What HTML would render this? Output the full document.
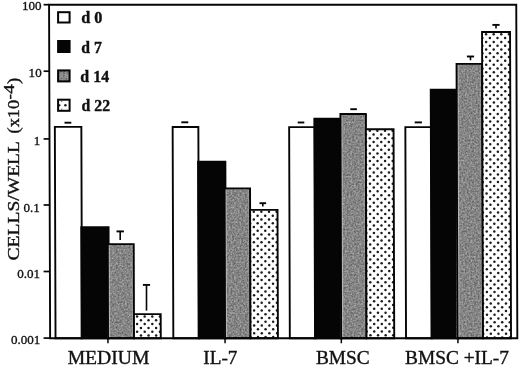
<!DOCTYPE html>
<html><head><meta charset="utf-8"><title>chart</title>
<style>
html,body{margin:0;padding:0;background:#fff;}
body{width:520px;height:367px;overflow:hidden;font-family:"Liberation Serif",serif;}
svg{display:block;filter:grayscale(1);}
text{font-family:"Liberation Serif",serif;fill:#111;stroke:#111;stroke-width:0.35px;}
</style></head><body>
<svg width="520" height="367" viewBox="0 0 520 367">
<defs>
<filter id="gn" x="0" y="0" width="100%" height="100%" color-interpolation-filters="sRGB">
<feTurbulence type="fractalNoise" baseFrequency="0.55" numOctaves="2" seed="4" result="t"/>
<feColorMatrix in="t" type="matrix" values="0.48 0 0 0 0.28  0.48 0 0 0 0.28  0.48 0 0 0 0.28  0 0 0 0 1"/>
</filter>
</defs>
<rect width="520" height="367" fill="#fff"/>

<g transform="matrix(1 0 0.0032 1 -1.0560 0)">
<rect x="55.50" y="126.90" width="26.50" height="211.40" fill="#fff" stroke="#050505" stroke-width="1.9"/>
<rect x="81.60" y="227.10" width="27.30" height="111.20" fill="#050505" stroke="#050505" stroke-width="1.9"/>
<rect x="173.30" y="127.00" width="25.70" height="211.30" fill="#fff" stroke="#050505" stroke-width="1.9"/>
<rect x="198.60" y="161.80" width="27.30" height="176.50" fill="#050505" stroke="#050505" stroke-width="1.9"/>
<rect x="289.80" y="127.10" width="25.60" height="211.20" fill="#fff" stroke="#050505" stroke-width="1.9"/>
<rect x="315.00" y="118.70" width="27.00" height="219.60" fill="#050505" stroke="#050505" stroke-width="1.9"/>
<rect x="406.00" y="127.10" width="25.90" height="211.20" fill="#fff" stroke="#050505" stroke-width="1.9"/>
<rect x="431.50" y="89.80" width="26.80" height="248.50" fill="#050505" stroke="#050505" stroke-width="1.9"/>
</g>
<rect x="107.88" y="244.10" width="26.00" height="94.20" fill="#858585" filter="url(#gn)"/>
<rect x="224.79" y="188.40" width="25.50" height="149.90" fill="#858585" filter="url(#gn)"/>
<rect x="340.77" y="114.00" width="25.40" height="224.30" fill="#858585" filter="url(#gn)"/>
<rect x="456.99" y="63.85" width="25.60" height="274.45" fill="#858585" filter="url(#gn)"/>
<g transform="matrix(1 0 0.0032 1 -1.0560 0)">
<rect x="108.95" y="245.05" width="1.1" height="92.30" fill="#c4c4c4" opacity="0.75"/>
<rect x="132.05" y="245.05" width="1.0" height="92.30" fill="#b0b0b0" opacity="0.5"/>
<rect x="108.00" y="244.10" width="26.00" height="94.20" fill="none" stroke="#050505" stroke-width="1.9"/>
<rect x="134.00" y="314.10" width="26.75" height="24.20" fill="#fff"/>
<clipPath id="c0"><rect x="134.00" y="314.10" width="26.75" height="24.20"/></clipPath>
<g clip-path="url(#c0)" fill="#1c1c1c">
<circle cx="133.33" cy="312.72" r="1.25"/>
<circle cx="133.33" cy="320.30" r="1.25"/>
<circle cx="133.33" cy="327.88" r="1.25"/>
<circle cx="133.33" cy="335.46" r="1.25"/>
<circle cx="140.93" cy="312.72" r="1.25"/>
<circle cx="140.93" cy="320.30" r="1.25"/>
<circle cx="140.93" cy="327.88" r="1.25"/>
<circle cx="140.93" cy="335.46" r="1.25"/>
<circle cx="148.53" cy="312.72" r="1.25"/>
<circle cx="148.53" cy="320.30" r="1.25"/>
<circle cx="148.53" cy="327.88" r="1.25"/>
<circle cx="148.53" cy="335.46" r="1.25"/>
<circle cx="156.13" cy="312.72" r="1.25"/>
<circle cx="156.13" cy="320.30" r="1.25"/>
<circle cx="156.13" cy="327.88" r="1.25"/>
<circle cx="156.13" cy="335.46" r="1.25"/>
<circle cx="137.13" cy="316.51" r="1.25"/>
<circle cx="137.13" cy="324.09" r="1.25"/>
<circle cx="137.13" cy="331.67" r="1.25"/>
<circle cx="137.13" cy="339.25" r="1.25"/>
<circle cx="144.73" cy="316.51" r="1.25"/>
<circle cx="144.73" cy="324.09" r="1.25"/>
<circle cx="144.73" cy="331.67" r="1.25"/>
<circle cx="144.73" cy="339.25" r="1.25"/>
<circle cx="152.33" cy="316.51" r="1.25"/>
<circle cx="152.33" cy="324.09" r="1.25"/>
<circle cx="152.33" cy="331.67" r="1.25"/>
<circle cx="152.33" cy="339.25" r="1.25"/>
<circle cx="159.93" cy="316.51" r="1.25"/>
<circle cx="159.93" cy="324.09" r="1.25"/>
<circle cx="159.93" cy="331.67" r="1.25"/>
<circle cx="159.93" cy="339.25" r="1.25"/>
</g>
<rect x="134.00" y="314.10" width="26.75" height="24.20" fill="none" stroke="#050505" stroke-width="1.9"/>
<rect x="225.95" y="189.35" width="1.1" height="148.00" fill="#c4c4c4" opacity="0.75"/>
<rect x="248.55" y="189.35" width="1.0" height="148.00" fill="#b0b0b0" opacity="0.5"/>
<rect x="225.00" y="188.40" width="25.50" height="149.90" fill="none" stroke="#050505" stroke-width="1.9"/>
<rect x="250.50" y="209.90" width="27.40" height="128.40" fill="#fff"/>
<clipPath id="c1"><rect x="250.50" y="209.90" width="27.40" height="128.40"/></clipPath>
<g clip-path="url(#c1)" fill="#1c1c1c">
<circle cx="250.37" cy="215.65" r="1.25"/>
<circle cx="250.37" cy="223.23" r="1.25"/>
<circle cx="250.37" cy="230.81" r="1.25"/>
<circle cx="250.37" cy="238.39" r="1.25"/>
<circle cx="250.37" cy="245.97" r="1.25"/>
<circle cx="250.37" cy="253.55" r="1.25"/>
<circle cx="250.37" cy="261.13" r="1.25"/>
<circle cx="250.37" cy="268.71" r="1.25"/>
<circle cx="250.37" cy="276.29" r="1.25"/>
<circle cx="250.37" cy="283.87" r="1.25"/>
<circle cx="250.37" cy="291.45" r="1.25"/>
<circle cx="250.37" cy="299.03" r="1.25"/>
<circle cx="250.37" cy="306.61" r="1.25"/>
<circle cx="250.37" cy="314.19" r="1.25"/>
<circle cx="250.37" cy="321.77" r="1.25"/>
<circle cx="250.37" cy="329.35" r="1.25"/>
<circle cx="250.37" cy="336.93" r="1.25"/>
<circle cx="257.97" cy="215.65" r="1.25"/>
<circle cx="257.97" cy="223.23" r="1.25"/>
<circle cx="257.97" cy="230.81" r="1.25"/>
<circle cx="257.97" cy="238.39" r="1.25"/>
<circle cx="257.97" cy="245.97" r="1.25"/>
<circle cx="257.97" cy="253.55" r="1.25"/>
<circle cx="257.97" cy="261.13" r="1.25"/>
<circle cx="257.97" cy="268.71" r="1.25"/>
<circle cx="257.97" cy="276.29" r="1.25"/>
<circle cx="257.97" cy="283.87" r="1.25"/>
<circle cx="257.97" cy="291.45" r="1.25"/>
<circle cx="257.97" cy="299.03" r="1.25"/>
<circle cx="257.97" cy="306.61" r="1.25"/>
<circle cx="257.97" cy="314.19" r="1.25"/>
<circle cx="257.97" cy="321.77" r="1.25"/>
<circle cx="257.97" cy="329.35" r="1.25"/>
<circle cx="257.97" cy="336.93" r="1.25"/>
<circle cx="265.57" cy="215.65" r="1.25"/>
<circle cx="265.57" cy="223.23" r="1.25"/>
<circle cx="265.57" cy="230.81" r="1.25"/>
<circle cx="265.57" cy="238.39" r="1.25"/>
<circle cx="265.57" cy="245.97" r="1.25"/>
<circle cx="265.57" cy="253.55" r="1.25"/>
<circle cx="265.57" cy="261.13" r="1.25"/>
<circle cx="265.57" cy="268.71" r="1.25"/>
<circle cx="265.57" cy="276.29" r="1.25"/>
<circle cx="265.57" cy="283.87" r="1.25"/>
<circle cx="265.57" cy="291.45" r="1.25"/>
<circle cx="265.57" cy="299.03" r="1.25"/>
<circle cx="265.57" cy="306.61" r="1.25"/>
<circle cx="265.57" cy="314.19" r="1.25"/>
<circle cx="265.57" cy="321.77" r="1.25"/>
<circle cx="265.57" cy="329.35" r="1.25"/>
<circle cx="265.57" cy="336.93" r="1.25"/>
<circle cx="273.17" cy="215.65" r="1.25"/>
<circle cx="273.17" cy="223.23" r="1.25"/>
<circle cx="273.17" cy="230.81" r="1.25"/>
<circle cx="273.17" cy="238.39" r="1.25"/>
<circle cx="273.17" cy="245.97" r="1.25"/>
<circle cx="273.17" cy="253.55" r="1.25"/>
<circle cx="273.17" cy="261.13" r="1.25"/>
<circle cx="273.17" cy="268.71" r="1.25"/>
<circle cx="273.17" cy="276.29" r="1.25"/>
<circle cx="273.17" cy="283.87" r="1.25"/>
<circle cx="273.17" cy="291.45" r="1.25"/>
<circle cx="273.17" cy="299.03" r="1.25"/>
<circle cx="273.17" cy="306.61" r="1.25"/>
<circle cx="273.17" cy="314.19" r="1.25"/>
<circle cx="273.17" cy="321.77" r="1.25"/>
<circle cx="273.17" cy="329.35" r="1.25"/>
<circle cx="273.17" cy="336.93" r="1.25"/>
<circle cx="254.17" cy="211.86" r="1.25"/>
<circle cx="254.17" cy="219.44" r="1.25"/>
<circle cx="254.17" cy="227.02" r="1.25"/>
<circle cx="254.17" cy="234.60" r="1.25"/>
<circle cx="254.17" cy="242.18" r="1.25"/>
<circle cx="254.17" cy="249.76" r="1.25"/>
<circle cx="254.17" cy="257.34" r="1.25"/>
<circle cx="254.17" cy="264.92" r="1.25"/>
<circle cx="254.17" cy="272.50" r="1.25"/>
<circle cx="254.17" cy="280.08" r="1.25"/>
<circle cx="254.17" cy="287.66" r="1.25"/>
<circle cx="254.17" cy="295.24" r="1.25"/>
<circle cx="254.17" cy="302.82" r="1.25"/>
<circle cx="254.17" cy="310.40" r="1.25"/>
<circle cx="254.17" cy="317.98" r="1.25"/>
<circle cx="254.17" cy="325.56" r="1.25"/>
<circle cx="254.17" cy="333.14" r="1.25"/>
<circle cx="261.77" cy="211.86" r="1.25"/>
<circle cx="261.77" cy="219.44" r="1.25"/>
<circle cx="261.77" cy="227.02" r="1.25"/>
<circle cx="261.77" cy="234.60" r="1.25"/>
<circle cx="261.77" cy="242.18" r="1.25"/>
<circle cx="261.77" cy="249.76" r="1.25"/>
<circle cx="261.77" cy="257.34" r="1.25"/>
<circle cx="261.77" cy="264.92" r="1.25"/>
<circle cx="261.77" cy="272.50" r="1.25"/>
<circle cx="261.77" cy="280.08" r="1.25"/>
<circle cx="261.77" cy="287.66" r="1.25"/>
<circle cx="261.77" cy="295.24" r="1.25"/>
<circle cx="261.77" cy="302.82" r="1.25"/>
<circle cx="261.77" cy="310.40" r="1.25"/>
<circle cx="261.77" cy="317.98" r="1.25"/>
<circle cx="261.77" cy="325.56" r="1.25"/>
<circle cx="261.77" cy="333.14" r="1.25"/>
<circle cx="269.37" cy="211.86" r="1.25"/>
<circle cx="269.37" cy="219.44" r="1.25"/>
<circle cx="269.37" cy="227.02" r="1.25"/>
<circle cx="269.37" cy="234.60" r="1.25"/>
<circle cx="269.37" cy="242.18" r="1.25"/>
<circle cx="269.37" cy="249.76" r="1.25"/>
<circle cx="269.37" cy="257.34" r="1.25"/>
<circle cx="269.37" cy="264.92" r="1.25"/>
<circle cx="269.37" cy="272.50" r="1.25"/>
<circle cx="269.37" cy="280.08" r="1.25"/>
<circle cx="269.37" cy="287.66" r="1.25"/>
<circle cx="269.37" cy="295.24" r="1.25"/>
<circle cx="269.37" cy="302.82" r="1.25"/>
<circle cx="269.37" cy="310.40" r="1.25"/>
<circle cx="269.37" cy="317.98" r="1.25"/>
<circle cx="269.37" cy="325.56" r="1.25"/>
<circle cx="269.37" cy="333.14" r="1.25"/>
<circle cx="276.97" cy="211.86" r="1.25"/>
<circle cx="276.97" cy="219.44" r="1.25"/>
<circle cx="276.97" cy="227.02" r="1.25"/>
<circle cx="276.97" cy="234.60" r="1.25"/>
<circle cx="276.97" cy="242.18" r="1.25"/>
<circle cx="276.97" cy="249.76" r="1.25"/>
<circle cx="276.97" cy="257.34" r="1.25"/>
<circle cx="276.97" cy="264.92" r="1.25"/>
<circle cx="276.97" cy="272.50" r="1.25"/>
<circle cx="276.97" cy="280.08" r="1.25"/>
<circle cx="276.97" cy="287.66" r="1.25"/>
<circle cx="276.97" cy="295.24" r="1.25"/>
<circle cx="276.97" cy="302.82" r="1.25"/>
<circle cx="276.97" cy="310.40" r="1.25"/>
<circle cx="276.97" cy="317.98" r="1.25"/>
<circle cx="276.97" cy="325.56" r="1.25"/>
<circle cx="276.97" cy="333.14" r="1.25"/>
</g>
<rect x="250.50" y="209.90" width="27.40" height="128.40" fill="none" stroke="#050505" stroke-width="1.9"/>
<rect x="342.05" y="114.95" width="1.1" height="222.40" fill="#c4c4c4" opacity="0.75"/>
<rect x="364.55" y="114.95" width="1.0" height="222.40" fill="#b0b0b0" opacity="0.5"/>
<rect x="341.10" y="114.00" width="25.40" height="224.30" fill="none" stroke="#050505" stroke-width="1.9"/>
<rect x="366.50" y="129.20" width="27.70" height="209.10" fill="#fff"/>
<clipPath id="c2"><rect x="366.50" y="129.20" width="27.70" height="209.10"/></clipPath>
<g clip-path="url(#c2)" fill="#1c1c1c">
<circle cx="366.63" cy="134.50" r="1.25"/>
<circle cx="366.63" cy="142.08" r="1.25"/>
<circle cx="366.63" cy="149.66" r="1.25"/>
<circle cx="366.63" cy="157.24" r="1.25"/>
<circle cx="366.63" cy="164.82" r="1.25"/>
<circle cx="366.63" cy="172.40" r="1.25"/>
<circle cx="366.63" cy="179.98" r="1.25"/>
<circle cx="366.63" cy="187.56" r="1.25"/>
<circle cx="366.63" cy="195.14" r="1.25"/>
<circle cx="366.63" cy="202.72" r="1.25"/>
<circle cx="366.63" cy="210.30" r="1.25"/>
<circle cx="366.63" cy="217.88" r="1.25"/>
<circle cx="366.63" cy="225.46" r="1.25"/>
<circle cx="366.63" cy="233.04" r="1.25"/>
<circle cx="366.63" cy="240.62" r="1.25"/>
<circle cx="366.63" cy="248.20" r="1.25"/>
<circle cx="366.63" cy="255.78" r="1.25"/>
<circle cx="366.63" cy="263.36" r="1.25"/>
<circle cx="366.63" cy="270.94" r="1.25"/>
<circle cx="366.63" cy="278.52" r="1.25"/>
<circle cx="366.63" cy="286.10" r="1.25"/>
<circle cx="366.63" cy="293.68" r="1.25"/>
<circle cx="366.63" cy="301.26" r="1.25"/>
<circle cx="366.63" cy="308.84" r="1.25"/>
<circle cx="366.63" cy="316.42" r="1.25"/>
<circle cx="366.63" cy="324.00" r="1.25"/>
<circle cx="366.63" cy="331.58" r="1.25"/>
<circle cx="366.63" cy="339.16" r="1.25"/>
<circle cx="374.23" cy="134.50" r="1.25"/>
<circle cx="374.23" cy="142.08" r="1.25"/>
<circle cx="374.23" cy="149.66" r="1.25"/>
<circle cx="374.23" cy="157.24" r="1.25"/>
<circle cx="374.23" cy="164.82" r="1.25"/>
<circle cx="374.23" cy="172.40" r="1.25"/>
<circle cx="374.23" cy="179.98" r="1.25"/>
<circle cx="374.23" cy="187.56" r="1.25"/>
<circle cx="374.23" cy="195.14" r="1.25"/>
<circle cx="374.23" cy="202.72" r="1.25"/>
<circle cx="374.23" cy="210.30" r="1.25"/>
<circle cx="374.23" cy="217.88" r="1.25"/>
<circle cx="374.23" cy="225.46" r="1.25"/>
<circle cx="374.23" cy="233.04" r="1.25"/>
<circle cx="374.23" cy="240.62" r="1.25"/>
<circle cx="374.23" cy="248.20" r="1.25"/>
<circle cx="374.23" cy="255.78" r="1.25"/>
<circle cx="374.23" cy="263.36" r="1.25"/>
<circle cx="374.23" cy="270.94" r="1.25"/>
<circle cx="374.23" cy="278.52" r="1.25"/>
<circle cx="374.23" cy="286.10" r="1.25"/>
<circle cx="374.23" cy="293.68" r="1.25"/>
<circle cx="374.23" cy="301.26" r="1.25"/>
<circle cx="374.23" cy="308.84" r="1.25"/>
<circle cx="374.23" cy="316.42" r="1.25"/>
<circle cx="374.23" cy="324.00" r="1.25"/>
<circle cx="374.23" cy="331.58" r="1.25"/>
<circle cx="374.23" cy="339.16" r="1.25"/>
<circle cx="381.83" cy="134.50" r="1.25"/>
<circle cx="381.83" cy="142.08" r="1.25"/>
<circle cx="381.83" cy="149.66" r="1.25"/>
<circle cx="381.83" cy="157.24" r="1.25"/>
<circle cx="381.83" cy="164.82" r="1.25"/>
<circle cx="381.83" cy="172.40" r="1.25"/>
<circle cx="381.83" cy="179.98" r="1.25"/>
<circle cx="381.83" cy="187.56" r="1.25"/>
<circle cx="381.83" cy="195.14" r="1.25"/>
<circle cx="381.83" cy="202.72" r="1.25"/>
<circle cx="381.83" cy="210.30" r="1.25"/>
<circle cx="381.83" cy="217.88" r="1.25"/>
<circle cx="381.83" cy="225.46" r="1.25"/>
<circle cx="381.83" cy="233.04" r="1.25"/>
<circle cx="381.83" cy="240.62" r="1.25"/>
<circle cx="381.83" cy="248.20" r="1.25"/>
<circle cx="381.83" cy="255.78" r="1.25"/>
<circle cx="381.83" cy="263.36" r="1.25"/>
<circle cx="381.83" cy="270.94" r="1.25"/>
<circle cx="381.83" cy="278.52" r="1.25"/>
<circle cx="381.83" cy="286.10" r="1.25"/>
<circle cx="381.83" cy="293.68" r="1.25"/>
<circle cx="381.83" cy="301.26" r="1.25"/>
<circle cx="381.83" cy="308.84" r="1.25"/>
<circle cx="381.83" cy="316.42" r="1.25"/>
<circle cx="381.83" cy="324.00" r="1.25"/>
<circle cx="381.83" cy="331.58" r="1.25"/>
<circle cx="381.83" cy="339.16" r="1.25"/>
<circle cx="389.43" cy="134.50" r="1.25"/>
<circle cx="389.43" cy="142.08" r="1.25"/>
<circle cx="389.43" cy="149.66" r="1.25"/>
<circle cx="389.43" cy="157.24" r="1.25"/>
<circle cx="389.43" cy="164.82" r="1.25"/>
<circle cx="389.43" cy="172.40" r="1.25"/>
<circle cx="389.43" cy="179.98" r="1.25"/>
<circle cx="389.43" cy="187.56" r="1.25"/>
<circle cx="389.43" cy="195.14" r="1.25"/>
<circle cx="389.43" cy="202.72" r="1.25"/>
<circle cx="389.43" cy="210.30" r="1.25"/>
<circle cx="389.43" cy="217.88" r="1.25"/>
<circle cx="389.43" cy="225.46" r="1.25"/>
<circle cx="389.43" cy="233.04" r="1.25"/>
<circle cx="389.43" cy="240.62" r="1.25"/>
<circle cx="389.43" cy="248.20" r="1.25"/>
<circle cx="389.43" cy="255.78" r="1.25"/>
<circle cx="389.43" cy="263.36" r="1.25"/>
<circle cx="389.43" cy="270.94" r="1.25"/>
<circle cx="389.43" cy="278.52" r="1.25"/>
<circle cx="389.43" cy="286.10" r="1.25"/>
<circle cx="389.43" cy="293.68" r="1.25"/>
<circle cx="389.43" cy="301.26" r="1.25"/>
<circle cx="389.43" cy="308.84" r="1.25"/>
<circle cx="389.43" cy="316.42" r="1.25"/>
<circle cx="389.43" cy="324.00" r="1.25"/>
<circle cx="389.43" cy="331.58" r="1.25"/>
<circle cx="389.43" cy="339.16" r="1.25"/>
<circle cx="370.43" cy="130.71" r="1.25"/>
<circle cx="370.43" cy="138.29" r="1.25"/>
<circle cx="370.43" cy="145.87" r="1.25"/>
<circle cx="370.43" cy="153.45" r="1.25"/>
<circle cx="370.43" cy="161.03" r="1.25"/>
<circle cx="370.43" cy="168.61" r="1.25"/>
<circle cx="370.43" cy="176.19" r="1.25"/>
<circle cx="370.43" cy="183.77" r="1.25"/>
<circle cx="370.43" cy="191.35" r="1.25"/>
<circle cx="370.43" cy="198.93" r="1.25"/>
<circle cx="370.43" cy="206.51" r="1.25"/>
<circle cx="370.43" cy="214.09" r="1.25"/>
<circle cx="370.43" cy="221.67" r="1.25"/>
<circle cx="370.43" cy="229.25" r="1.25"/>
<circle cx="370.43" cy="236.83" r="1.25"/>
<circle cx="370.43" cy="244.41" r="1.25"/>
<circle cx="370.43" cy="251.99" r="1.25"/>
<circle cx="370.43" cy="259.57" r="1.25"/>
<circle cx="370.43" cy="267.15" r="1.25"/>
<circle cx="370.43" cy="274.73" r="1.25"/>
<circle cx="370.43" cy="282.31" r="1.25"/>
<circle cx="370.43" cy="289.89" r="1.25"/>
<circle cx="370.43" cy="297.47" r="1.25"/>
<circle cx="370.43" cy="305.05" r="1.25"/>
<circle cx="370.43" cy="312.63" r="1.25"/>
<circle cx="370.43" cy="320.21" r="1.25"/>
<circle cx="370.43" cy="327.79" r="1.25"/>
<circle cx="370.43" cy="335.37" r="1.25"/>
<circle cx="378.03" cy="130.71" r="1.25"/>
<circle cx="378.03" cy="138.29" r="1.25"/>
<circle cx="378.03" cy="145.87" r="1.25"/>
<circle cx="378.03" cy="153.45" r="1.25"/>
<circle cx="378.03" cy="161.03" r="1.25"/>
<circle cx="378.03" cy="168.61" r="1.25"/>
<circle cx="378.03" cy="176.19" r="1.25"/>
<circle cx="378.03" cy="183.77" r="1.25"/>
<circle cx="378.03" cy="191.35" r="1.25"/>
<circle cx="378.03" cy="198.93" r="1.25"/>
<circle cx="378.03" cy="206.51" r="1.25"/>
<circle cx="378.03" cy="214.09" r="1.25"/>
<circle cx="378.03" cy="221.67" r="1.25"/>
<circle cx="378.03" cy="229.25" r="1.25"/>
<circle cx="378.03" cy="236.83" r="1.25"/>
<circle cx="378.03" cy="244.41" r="1.25"/>
<circle cx="378.03" cy="251.99" r="1.25"/>
<circle cx="378.03" cy="259.57" r="1.25"/>
<circle cx="378.03" cy="267.15" r="1.25"/>
<circle cx="378.03" cy="274.73" r="1.25"/>
<circle cx="378.03" cy="282.31" r="1.25"/>
<circle cx="378.03" cy="289.89" r="1.25"/>
<circle cx="378.03" cy="297.47" r="1.25"/>
<circle cx="378.03" cy="305.05" r="1.25"/>
<circle cx="378.03" cy="312.63" r="1.25"/>
<circle cx="378.03" cy="320.21" r="1.25"/>
<circle cx="378.03" cy="327.79" r="1.25"/>
<circle cx="378.03" cy="335.37" r="1.25"/>
<circle cx="385.63" cy="130.71" r="1.25"/>
<circle cx="385.63" cy="138.29" r="1.25"/>
<circle cx="385.63" cy="145.87" r="1.25"/>
<circle cx="385.63" cy="153.45" r="1.25"/>
<circle cx="385.63" cy="161.03" r="1.25"/>
<circle cx="385.63" cy="168.61" r="1.25"/>
<circle cx="385.63" cy="176.19" r="1.25"/>
<circle cx="385.63" cy="183.77" r="1.25"/>
<circle cx="385.63" cy="191.35" r="1.25"/>
<circle cx="385.63" cy="198.93" r="1.25"/>
<circle cx="385.63" cy="206.51" r="1.25"/>
<circle cx="385.63" cy="214.09" r="1.25"/>
<circle cx="385.63" cy="221.67" r="1.25"/>
<circle cx="385.63" cy="229.25" r="1.25"/>
<circle cx="385.63" cy="236.83" r="1.25"/>
<circle cx="385.63" cy="244.41" r="1.25"/>
<circle cx="385.63" cy="251.99" r="1.25"/>
<circle cx="385.63" cy="259.57" r="1.25"/>
<circle cx="385.63" cy="267.15" r="1.25"/>
<circle cx="385.63" cy="274.73" r="1.25"/>
<circle cx="385.63" cy="282.31" r="1.25"/>
<circle cx="385.63" cy="289.89" r="1.25"/>
<circle cx="385.63" cy="297.47" r="1.25"/>
<circle cx="385.63" cy="305.05" r="1.25"/>
<circle cx="385.63" cy="312.63" r="1.25"/>
<circle cx="385.63" cy="320.21" r="1.25"/>
<circle cx="385.63" cy="327.79" r="1.25"/>
<circle cx="385.63" cy="335.37" r="1.25"/>
<circle cx="393.23" cy="130.71" r="1.25"/>
<circle cx="393.23" cy="138.29" r="1.25"/>
<circle cx="393.23" cy="145.87" r="1.25"/>
<circle cx="393.23" cy="153.45" r="1.25"/>
<circle cx="393.23" cy="161.03" r="1.25"/>
<circle cx="393.23" cy="168.61" r="1.25"/>
<circle cx="393.23" cy="176.19" r="1.25"/>
<circle cx="393.23" cy="183.77" r="1.25"/>
<circle cx="393.23" cy="191.35" r="1.25"/>
<circle cx="393.23" cy="198.93" r="1.25"/>
<circle cx="393.23" cy="206.51" r="1.25"/>
<circle cx="393.23" cy="214.09" r="1.25"/>
<circle cx="393.23" cy="221.67" r="1.25"/>
<circle cx="393.23" cy="229.25" r="1.25"/>
<circle cx="393.23" cy="236.83" r="1.25"/>
<circle cx="393.23" cy="244.41" r="1.25"/>
<circle cx="393.23" cy="251.99" r="1.25"/>
<circle cx="393.23" cy="259.57" r="1.25"/>
<circle cx="393.23" cy="267.15" r="1.25"/>
<circle cx="393.23" cy="274.73" r="1.25"/>
<circle cx="393.23" cy="282.31" r="1.25"/>
<circle cx="393.23" cy="289.89" r="1.25"/>
<circle cx="393.23" cy="297.47" r="1.25"/>
<circle cx="393.23" cy="305.05" r="1.25"/>
<circle cx="393.23" cy="312.63" r="1.25"/>
<circle cx="393.23" cy="320.21" r="1.25"/>
<circle cx="393.23" cy="327.79" r="1.25"/>
<circle cx="393.23" cy="335.37" r="1.25"/>
</g>
<rect x="366.50" y="129.20" width="27.70" height="209.10" fill="none" stroke="#050505" stroke-width="1.9"/>
<rect x="458.35" y="64.80" width="1.1" height="272.55" fill="#c4c4c4" opacity="0.75"/>
<rect x="481.05" y="64.80" width="1.0" height="272.55" fill="#b0b0b0" opacity="0.5"/>
<rect x="457.40" y="63.85" width="25.60" height="274.45" fill="none" stroke="#050505" stroke-width="1.9"/>
<rect x="483.00" y="32.05" width="28.00" height="306.25" fill="#fff"/>
<clipPath id="c3"><rect x="483.00" y="32.05" width="28.00" height="306.25"/></clipPath>
<g clip-path="url(#c3)" fill="#1c1c1c">
<circle cx="483.23" cy="38.10" r="1.25"/>
<circle cx="483.23" cy="45.68" r="1.25"/>
<circle cx="483.23" cy="53.26" r="1.25"/>
<circle cx="483.23" cy="60.84" r="1.25"/>
<circle cx="483.23" cy="68.42" r="1.25"/>
<circle cx="483.23" cy="76.00" r="1.25"/>
<circle cx="483.23" cy="83.58" r="1.25"/>
<circle cx="483.23" cy="91.16" r="1.25"/>
<circle cx="483.23" cy="98.74" r="1.25"/>
<circle cx="483.23" cy="106.32" r="1.25"/>
<circle cx="483.23" cy="113.90" r="1.25"/>
<circle cx="483.23" cy="121.48" r="1.25"/>
<circle cx="483.23" cy="129.06" r="1.25"/>
<circle cx="483.23" cy="136.64" r="1.25"/>
<circle cx="483.23" cy="144.22" r="1.25"/>
<circle cx="483.23" cy="151.80" r="1.25"/>
<circle cx="483.23" cy="159.38" r="1.25"/>
<circle cx="483.23" cy="166.96" r="1.25"/>
<circle cx="483.23" cy="174.54" r="1.25"/>
<circle cx="483.23" cy="182.12" r="1.25"/>
<circle cx="483.23" cy="189.70" r="1.25"/>
<circle cx="483.23" cy="197.28" r="1.25"/>
<circle cx="483.23" cy="204.86" r="1.25"/>
<circle cx="483.23" cy="212.44" r="1.25"/>
<circle cx="483.23" cy="220.02" r="1.25"/>
<circle cx="483.23" cy="227.60" r="1.25"/>
<circle cx="483.23" cy="235.18" r="1.25"/>
<circle cx="483.23" cy="242.76" r="1.25"/>
<circle cx="483.23" cy="250.34" r="1.25"/>
<circle cx="483.23" cy="257.92" r="1.25"/>
<circle cx="483.23" cy="265.50" r="1.25"/>
<circle cx="483.23" cy="273.08" r="1.25"/>
<circle cx="483.23" cy="280.66" r="1.25"/>
<circle cx="483.23" cy="288.24" r="1.25"/>
<circle cx="483.23" cy="295.82" r="1.25"/>
<circle cx="483.23" cy="303.40" r="1.25"/>
<circle cx="483.23" cy="310.98" r="1.25"/>
<circle cx="483.23" cy="318.56" r="1.25"/>
<circle cx="483.23" cy="326.14" r="1.25"/>
<circle cx="483.23" cy="333.72" r="1.25"/>
<circle cx="490.83" cy="38.10" r="1.25"/>
<circle cx="490.83" cy="45.68" r="1.25"/>
<circle cx="490.83" cy="53.26" r="1.25"/>
<circle cx="490.83" cy="60.84" r="1.25"/>
<circle cx="490.83" cy="68.42" r="1.25"/>
<circle cx="490.83" cy="76.00" r="1.25"/>
<circle cx="490.83" cy="83.58" r="1.25"/>
<circle cx="490.83" cy="91.16" r="1.25"/>
<circle cx="490.83" cy="98.74" r="1.25"/>
<circle cx="490.83" cy="106.32" r="1.25"/>
<circle cx="490.83" cy="113.90" r="1.25"/>
<circle cx="490.83" cy="121.48" r="1.25"/>
<circle cx="490.83" cy="129.06" r="1.25"/>
<circle cx="490.83" cy="136.64" r="1.25"/>
<circle cx="490.83" cy="144.22" r="1.25"/>
<circle cx="490.83" cy="151.80" r="1.25"/>
<circle cx="490.83" cy="159.38" r="1.25"/>
<circle cx="490.83" cy="166.96" r="1.25"/>
<circle cx="490.83" cy="174.54" r="1.25"/>
<circle cx="490.83" cy="182.12" r="1.25"/>
<circle cx="490.83" cy="189.70" r="1.25"/>
<circle cx="490.83" cy="197.28" r="1.25"/>
<circle cx="490.83" cy="204.86" r="1.25"/>
<circle cx="490.83" cy="212.44" r="1.25"/>
<circle cx="490.83" cy="220.02" r="1.25"/>
<circle cx="490.83" cy="227.60" r="1.25"/>
<circle cx="490.83" cy="235.18" r="1.25"/>
<circle cx="490.83" cy="242.76" r="1.25"/>
<circle cx="490.83" cy="250.34" r="1.25"/>
<circle cx="490.83" cy="257.92" r="1.25"/>
<circle cx="490.83" cy="265.50" r="1.25"/>
<circle cx="490.83" cy="273.08" r="1.25"/>
<circle cx="490.83" cy="280.66" r="1.25"/>
<circle cx="490.83" cy="288.24" r="1.25"/>
<circle cx="490.83" cy="295.82" r="1.25"/>
<circle cx="490.83" cy="303.40" r="1.25"/>
<circle cx="490.83" cy="310.98" r="1.25"/>
<circle cx="490.83" cy="318.56" r="1.25"/>
<circle cx="490.83" cy="326.14" r="1.25"/>
<circle cx="490.83" cy="333.72" r="1.25"/>
<circle cx="498.43" cy="38.10" r="1.25"/>
<circle cx="498.43" cy="45.68" r="1.25"/>
<circle cx="498.43" cy="53.26" r="1.25"/>
<circle cx="498.43" cy="60.84" r="1.25"/>
<circle cx="498.43" cy="68.42" r="1.25"/>
<circle cx="498.43" cy="76.00" r="1.25"/>
<circle cx="498.43" cy="83.58" r="1.25"/>
<circle cx="498.43" cy="91.16" r="1.25"/>
<circle cx="498.43" cy="98.74" r="1.25"/>
<circle cx="498.43" cy="106.32" r="1.25"/>
<circle cx="498.43" cy="113.90" r="1.25"/>
<circle cx="498.43" cy="121.48" r="1.25"/>
<circle cx="498.43" cy="129.06" r="1.25"/>
<circle cx="498.43" cy="136.64" r="1.25"/>
<circle cx="498.43" cy="144.22" r="1.25"/>
<circle cx="498.43" cy="151.80" r="1.25"/>
<circle cx="498.43" cy="159.38" r="1.25"/>
<circle cx="498.43" cy="166.96" r="1.25"/>
<circle cx="498.43" cy="174.54" r="1.25"/>
<circle cx="498.43" cy="182.12" r="1.25"/>
<circle cx="498.43" cy="189.70" r="1.25"/>
<circle cx="498.43" cy="197.28" r="1.25"/>
<circle cx="498.43" cy="204.86" r="1.25"/>
<circle cx="498.43" cy="212.44" r="1.25"/>
<circle cx="498.43" cy="220.02" r="1.25"/>
<circle cx="498.43" cy="227.60" r="1.25"/>
<circle cx="498.43" cy="235.18" r="1.25"/>
<circle cx="498.43" cy="242.76" r="1.25"/>
<circle cx="498.43" cy="250.34" r="1.25"/>
<circle cx="498.43" cy="257.92" r="1.25"/>
<circle cx="498.43" cy="265.50" r="1.25"/>
<circle cx="498.43" cy="273.08" r="1.25"/>
<circle cx="498.43" cy="280.66" r="1.25"/>
<circle cx="498.43" cy="288.24" r="1.25"/>
<circle cx="498.43" cy="295.82" r="1.25"/>
<circle cx="498.43" cy="303.40" r="1.25"/>
<circle cx="498.43" cy="310.98" r="1.25"/>
<circle cx="498.43" cy="318.56" r="1.25"/>
<circle cx="498.43" cy="326.14" r="1.25"/>
<circle cx="498.43" cy="333.72" r="1.25"/>
<circle cx="506.03" cy="38.10" r="1.25"/>
<circle cx="506.03" cy="45.68" r="1.25"/>
<circle cx="506.03" cy="53.26" r="1.25"/>
<circle cx="506.03" cy="60.84" r="1.25"/>
<circle cx="506.03" cy="68.42" r="1.25"/>
<circle cx="506.03" cy="76.00" r="1.25"/>
<circle cx="506.03" cy="83.58" r="1.25"/>
<circle cx="506.03" cy="91.16" r="1.25"/>
<circle cx="506.03" cy="98.74" r="1.25"/>
<circle cx="506.03" cy="106.32" r="1.25"/>
<circle cx="506.03" cy="113.90" r="1.25"/>
<circle cx="506.03" cy="121.48" r="1.25"/>
<circle cx="506.03" cy="129.06" r="1.25"/>
<circle cx="506.03" cy="136.64" r="1.25"/>
<circle cx="506.03" cy="144.22" r="1.25"/>
<circle cx="506.03" cy="151.80" r="1.25"/>
<circle cx="506.03" cy="159.38" r="1.25"/>
<circle cx="506.03" cy="166.96" r="1.25"/>
<circle cx="506.03" cy="174.54" r="1.25"/>
<circle cx="506.03" cy="182.12" r="1.25"/>
<circle cx="506.03" cy="189.70" r="1.25"/>
<circle cx="506.03" cy="197.28" r="1.25"/>
<circle cx="506.03" cy="204.86" r="1.25"/>
<circle cx="506.03" cy="212.44" r="1.25"/>
<circle cx="506.03" cy="220.02" r="1.25"/>
<circle cx="506.03" cy="227.60" r="1.25"/>
<circle cx="506.03" cy="235.18" r="1.25"/>
<circle cx="506.03" cy="242.76" r="1.25"/>
<circle cx="506.03" cy="250.34" r="1.25"/>
<circle cx="506.03" cy="257.92" r="1.25"/>
<circle cx="506.03" cy="265.50" r="1.25"/>
<circle cx="506.03" cy="273.08" r="1.25"/>
<circle cx="506.03" cy="280.66" r="1.25"/>
<circle cx="506.03" cy="288.24" r="1.25"/>
<circle cx="506.03" cy="295.82" r="1.25"/>
<circle cx="506.03" cy="303.40" r="1.25"/>
<circle cx="506.03" cy="310.98" r="1.25"/>
<circle cx="506.03" cy="318.56" r="1.25"/>
<circle cx="506.03" cy="326.14" r="1.25"/>
<circle cx="506.03" cy="333.72" r="1.25"/>
<circle cx="487.03" cy="34.31" r="1.25"/>
<circle cx="487.03" cy="41.89" r="1.25"/>
<circle cx="487.03" cy="49.47" r="1.25"/>
<circle cx="487.03" cy="57.05" r="1.25"/>
<circle cx="487.03" cy="64.63" r="1.25"/>
<circle cx="487.03" cy="72.21" r="1.25"/>
<circle cx="487.03" cy="79.79" r="1.25"/>
<circle cx="487.03" cy="87.37" r="1.25"/>
<circle cx="487.03" cy="94.95" r="1.25"/>
<circle cx="487.03" cy="102.53" r="1.25"/>
<circle cx="487.03" cy="110.11" r="1.25"/>
<circle cx="487.03" cy="117.69" r="1.25"/>
<circle cx="487.03" cy="125.27" r="1.25"/>
<circle cx="487.03" cy="132.85" r="1.25"/>
<circle cx="487.03" cy="140.43" r="1.25"/>
<circle cx="487.03" cy="148.01" r="1.25"/>
<circle cx="487.03" cy="155.59" r="1.25"/>
<circle cx="487.03" cy="163.17" r="1.25"/>
<circle cx="487.03" cy="170.75" r="1.25"/>
<circle cx="487.03" cy="178.33" r="1.25"/>
<circle cx="487.03" cy="185.91" r="1.25"/>
<circle cx="487.03" cy="193.49" r="1.25"/>
<circle cx="487.03" cy="201.07" r="1.25"/>
<circle cx="487.03" cy="208.65" r="1.25"/>
<circle cx="487.03" cy="216.23" r="1.25"/>
<circle cx="487.03" cy="223.81" r="1.25"/>
<circle cx="487.03" cy="231.39" r="1.25"/>
<circle cx="487.03" cy="238.97" r="1.25"/>
<circle cx="487.03" cy="246.55" r="1.25"/>
<circle cx="487.03" cy="254.13" r="1.25"/>
<circle cx="487.03" cy="261.71" r="1.25"/>
<circle cx="487.03" cy="269.29" r="1.25"/>
<circle cx="487.03" cy="276.87" r="1.25"/>
<circle cx="487.03" cy="284.45" r="1.25"/>
<circle cx="487.03" cy="292.03" r="1.25"/>
<circle cx="487.03" cy="299.61" r="1.25"/>
<circle cx="487.03" cy="307.19" r="1.25"/>
<circle cx="487.03" cy="314.77" r="1.25"/>
<circle cx="487.03" cy="322.35" r="1.25"/>
<circle cx="487.03" cy="329.93" r="1.25"/>
<circle cx="487.03" cy="337.51" r="1.25"/>
<circle cx="494.63" cy="34.31" r="1.25"/>
<circle cx="494.63" cy="41.89" r="1.25"/>
<circle cx="494.63" cy="49.47" r="1.25"/>
<circle cx="494.63" cy="57.05" r="1.25"/>
<circle cx="494.63" cy="64.63" r="1.25"/>
<circle cx="494.63" cy="72.21" r="1.25"/>
<circle cx="494.63" cy="79.79" r="1.25"/>
<circle cx="494.63" cy="87.37" r="1.25"/>
<circle cx="494.63" cy="94.95" r="1.25"/>
<circle cx="494.63" cy="102.53" r="1.25"/>
<circle cx="494.63" cy="110.11" r="1.25"/>
<circle cx="494.63" cy="117.69" r="1.25"/>
<circle cx="494.63" cy="125.27" r="1.25"/>
<circle cx="494.63" cy="132.85" r="1.25"/>
<circle cx="494.63" cy="140.43" r="1.25"/>
<circle cx="494.63" cy="148.01" r="1.25"/>
<circle cx="494.63" cy="155.59" r="1.25"/>
<circle cx="494.63" cy="163.17" r="1.25"/>
<circle cx="494.63" cy="170.75" r="1.25"/>
<circle cx="494.63" cy="178.33" r="1.25"/>
<circle cx="494.63" cy="185.91" r="1.25"/>
<circle cx="494.63" cy="193.49" r="1.25"/>
<circle cx="494.63" cy="201.07" r="1.25"/>
<circle cx="494.63" cy="208.65" r="1.25"/>
<circle cx="494.63" cy="216.23" r="1.25"/>
<circle cx="494.63" cy="223.81" r="1.25"/>
<circle cx="494.63" cy="231.39" r="1.25"/>
<circle cx="494.63" cy="238.97" r="1.25"/>
<circle cx="494.63" cy="246.55" r="1.25"/>
<circle cx="494.63" cy="254.13" r="1.25"/>
<circle cx="494.63" cy="261.71" r="1.25"/>
<circle cx="494.63" cy="269.29" r="1.25"/>
<circle cx="494.63" cy="276.87" r="1.25"/>
<circle cx="494.63" cy="284.45" r="1.25"/>
<circle cx="494.63" cy="292.03" r="1.25"/>
<circle cx="494.63" cy="299.61" r="1.25"/>
<circle cx="494.63" cy="307.19" r="1.25"/>
<circle cx="494.63" cy="314.77" r="1.25"/>
<circle cx="494.63" cy="322.35" r="1.25"/>
<circle cx="494.63" cy="329.93" r="1.25"/>
<circle cx="494.63" cy="337.51" r="1.25"/>
<circle cx="502.23" cy="34.31" r="1.25"/>
<circle cx="502.23" cy="41.89" r="1.25"/>
<circle cx="502.23" cy="49.47" r="1.25"/>
<circle cx="502.23" cy="57.05" r="1.25"/>
<circle cx="502.23" cy="64.63" r="1.25"/>
<circle cx="502.23" cy="72.21" r="1.25"/>
<circle cx="502.23" cy="79.79" r="1.25"/>
<circle cx="502.23" cy="87.37" r="1.25"/>
<circle cx="502.23" cy="94.95" r="1.25"/>
<circle cx="502.23" cy="102.53" r="1.25"/>
<circle cx="502.23" cy="110.11" r="1.25"/>
<circle cx="502.23" cy="117.69" r="1.25"/>
<circle cx="502.23" cy="125.27" r="1.25"/>
<circle cx="502.23" cy="132.85" r="1.25"/>
<circle cx="502.23" cy="140.43" r="1.25"/>
<circle cx="502.23" cy="148.01" r="1.25"/>
<circle cx="502.23" cy="155.59" r="1.25"/>
<circle cx="502.23" cy="163.17" r="1.25"/>
<circle cx="502.23" cy="170.75" r="1.25"/>
<circle cx="502.23" cy="178.33" r="1.25"/>
<circle cx="502.23" cy="185.91" r="1.25"/>
<circle cx="502.23" cy="193.49" r="1.25"/>
<circle cx="502.23" cy="201.07" r="1.25"/>
<circle cx="502.23" cy="208.65" r="1.25"/>
<circle cx="502.23" cy="216.23" r="1.25"/>
<circle cx="502.23" cy="223.81" r="1.25"/>
<circle cx="502.23" cy="231.39" r="1.25"/>
<circle cx="502.23" cy="238.97" r="1.25"/>
<circle cx="502.23" cy="246.55" r="1.25"/>
<circle cx="502.23" cy="254.13" r="1.25"/>
<circle cx="502.23" cy="261.71" r="1.25"/>
<circle cx="502.23" cy="269.29" r="1.25"/>
<circle cx="502.23" cy="276.87" r="1.25"/>
<circle cx="502.23" cy="284.45" r="1.25"/>
<circle cx="502.23" cy="292.03" r="1.25"/>
<circle cx="502.23" cy="299.61" r="1.25"/>
<circle cx="502.23" cy="307.19" r="1.25"/>
<circle cx="502.23" cy="314.77" r="1.25"/>
<circle cx="502.23" cy="322.35" r="1.25"/>
<circle cx="502.23" cy="329.93" r="1.25"/>
<circle cx="502.23" cy="337.51" r="1.25"/>
<circle cx="509.83" cy="34.31" r="1.25"/>
<circle cx="509.83" cy="41.89" r="1.25"/>
<circle cx="509.83" cy="49.47" r="1.25"/>
<circle cx="509.83" cy="57.05" r="1.25"/>
<circle cx="509.83" cy="64.63" r="1.25"/>
<circle cx="509.83" cy="72.21" r="1.25"/>
<circle cx="509.83" cy="79.79" r="1.25"/>
<circle cx="509.83" cy="87.37" r="1.25"/>
<circle cx="509.83" cy="94.95" r="1.25"/>
<circle cx="509.83" cy="102.53" r="1.25"/>
<circle cx="509.83" cy="110.11" r="1.25"/>
<circle cx="509.83" cy="117.69" r="1.25"/>
<circle cx="509.83" cy="125.27" r="1.25"/>
<circle cx="509.83" cy="132.85" r="1.25"/>
<circle cx="509.83" cy="140.43" r="1.25"/>
<circle cx="509.83" cy="148.01" r="1.25"/>
<circle cx="509.83" cy="155.59" r="1.25"/>
<circle cx="509.83" cy="163.17" r="1.25"/>
<circle cx="509.83" cy="170.75" r="1.25"/>
<circle cx="509.83" cy="178.33" r="1.25"/>
<circle cx="509.83" cy="185.91" r="1.25"/>
<circle cx="509.83" cy="193.49" r="1.25"/>
<circle cx="509.83" cy="201.07" r="1.25"/>
<circle cx="509.83" cy="208.65" r="1.25"/>
<circle cx="509.83" cy="216.23" r="1.25"/>
<circle cx="509.83" cy="223.81" r="1.25"/>
<circle cx="509.83" cy="231.39" r="1.25"/>
<circle cx="509.83" cy="238.97" r="1.25"/>
<circle cx="509.83" cy="246.55" r="1.25"/>
<circle cx="509.83" cy="254.13" r="1.25"/>
<circle cx="509.83" cy="261.71" r="1.25"/>
<circle cx="509.83" cy="269.29" r="1.25"/>
<circle cx="509.83" cy="276.87" r="1.25"/>
<circle cx="509.83" cy="284.45" r="1.25"/>
<circle cx="509.83" cy="292.03" r="1.25"/>
<circle cx="509.83" cy="299.61" r="1.25"/>
<circle cx="509.83" cy="307.19" r="1.25"/>
<circle cx="509.83" cy="314.77" r="1.25"/>
<circle cx="509.83" cy="322.35" r="1.25"/>
<circle cx="509.83" cy="329.93" r="1.25"/>
<circle cx="509.83" cy="337.51" r="1.25"/>
</g>
<rect x="483.00" y="32.05" width="28.00" height="306.25" fill="none" stroke="#050505" stroke-width="1.9"/>
<path d="M50.1 4.7 H517.3 V338.3 H50.1 Z" fill="none" stroke="#050505" stroke-width="1.9"/>
<line x1="107.9" y1="338.3" x2="107.9" y2="343.3" stroke="#050505" stroke-width="1.5"/>
<line x1="225.0" y1="338.3" x2="225.0" y2="343.3" stroke="#050505" stroke-width="1.5"/>
<line x1="341.3" y1="338.3" x2="341.3" y2="343.3" stroke="#050505" stroke-width="1.5"/>
<line x1="457.9" y1="338.3" x2="457.9" y2="343.3" stroke="#050505" stroke-width="1.5"/>
</g>
<line x1="64.50" y1="122.7" x2="71.30" y2="122.7" stroke="#050505" stroke-width="1.9"/>
<line x1="116.50" y1="231.4" x2="123.90" y2="231.4" stroke="#050505" stroke-width="1.9"/>
<line x1="120.2" y1="231.4" x2="120.2" y2="240.0" stroke="#050505" stroke-width="1.6"/>
<line x1="142.90" y1="284.9" x2="150.10" y2="284.9" stroke="#050505" stroke-width="1.9"/>
<line x1="146.5" y1="284.9" x2="146.5" y2="310.6" stroke="#050505" stroke-width="1.6"/>
<line x1="181.30" y1="122.3" x2="188.30" y2="122.3" stroke="#050505" stroke-width="1.9"/>
<line x1="259.50" y1="203.2" x2="266.10" y2="203.2" stroke="#050505" stroke-width="1.9"/>
<line x1="262.8" y1="203.2" x2="262.8" y2="206.4" stroke="#050505" stroke-width="1.6"/>
<line x1="297.70" y1="122.5" x2="304.30" y2="122.5" stroke="#050505" stroke-width="1.9"/>
<line x1="350.30" y1="109.2" x2="356.90" y2="109.2" stroke="#050505" stroke-width="1.9"/>
<line x1="414.70" y1="122.4" x2="421.90" y2="122.4" stroke="#050505" stroke-width="1.9"/>
<line x1="466.90" y1="56.5" x2="474.10" y2="56.5" stroke="#050505" stroke-width="1.9"/>
<line x1="470.5" y1="56.5" x2="470.5" y2="60.3" stroke="#050505" stroke-width="1.6"/>
<line x1="492.40" y1="24.9" x2="499.60" y2="24.9" stroke="#050505" stroke-width="1.9"/>
<line x1="496.0" y1="24.9" x2="496.0" y2="28.4" stroke="#050505" stroke-width="1.6"/>
<line x1="43.6" y1="4.70" x2="49.06" y2="4.70" stroke="#050505" stroke-width="1.7"/>
<line x1="43.6" y1="71.20" x2="49.27" y2="71.20" stroke="#050505" stroke-width="1.7"/>
<line x1="43.6" y1="138.90" x2="49.49" y2="138.90" stroke="#050505" stroke-width="1.7"/>
<line x1="43.6" y1="205.00" x2="49.70" y2="205.00" stroke="#050505" stroke-width="1.7"/>
<line x1="43.6" y1="271.50" x2="49.91" y2="271.50" stroke="#050505" stroke-width="1.7"/>
<line x1="43.6" y1="338.10" x2="50.13" y2="338.10" stroke="#050505" stroke-width="1.7"/>
<text transform="translate(21.89 10.45) scale(0.9473 0.9600)" font-size="13.8" stroke-width="0.3">100</text>
<text transform="translate(28.61 77.15) scale(0.9473 0.9600)" font-size="13.8" stroke-width="0.3">10</text>
<text transform="translate(33.83 145.25) scale(0.9473 0.9600)" font-size="13.8" stroke-width="0.3">1</text>
<text transform="translate(23.53 211.50) scale(0.9473 0.9600)" font-size="13.8" stroke-width="0.3">0.1</text>
<text transform="translate(17.16 277.90) scale(0.9473 0.9600)" font-size="13.8" stroke-width="0.3">0.01</text>
<text transform="translate(10.94 343.77) scale(0.9473 0.9600)" font-size="13.8" stroke-width="0.3">0.001</text>
<text transform="translate(67.64 364.19) scale(1.0905 1.0300)" font-size="18" stroke-width="0.3">MEDIUM</text>
<text transform="translate(203.30 364.38) scale(1.0678 1.0300)" font-size="18" stroke-width="0.3">IL-7</text>
<text transform="translate(315.95 364.33) scale(1.0757 1.0300)" font-size="18" stroke-width="0.3">BMSC</text>
<text transform="translate(405.05 364.33) scale(1.0760 1.0300)" font-size="18" stroke-width="0.3">BMSC +IL-7</text>
<text transform="translate(81.24 23.09) scale(1.0479 1.0400)" font-size="15.5" font-weight="bold" stroke-width="0.1">d 0</text>
<text transform="translate(81.26 52.64) scale(1.0144 1.0400)" font-size="15.5" font-weight="bold" stroke-width="0.1">d 7</text>
<text transform="translate(80.35 81.99) scale(1.0305 1.0400)" font-size="15.5" font-weight="bold" stroke-width="0.1">d 14</text>
<text transform="translate(81.56 111.44) scale(1.0175 1.0400)" font-size="15.5" font-weight="bold" stroke-width="0.1">d 22</text>
<text transform="translate(19.05 260.5) rotate(-90)" font-size="17.6" stroke-width="0.15" textLength="119.5" lengthAdjust="spacingAndGlyphs">CELLS/WELL</text>
<text transform="translate(19.2 133.4) rotate(-90)" font-size="17.6" stroke-width="0.15" textLength="33.6" lengthAdjust="spacingAndGlyphs">(x10</text>
<text transform="translate(13.7 99.5) rotate(-90)" font-size="14" stroke-width="0.15" textLength="5.4" lengthAdjust="spacingAndGlyphs">-</text>
<text transform="translate(13.7 93.9) rotate(-90)" font-size="14" stroke-width="0.15" textLength="9.75" lengthAdjust="spacingAndGlyphs">4</text>
<text transform="translate(19.26 84.0) rotate(-90)" font-size="17.6" stroke-width="0.15" textLength="6.2" lengthAdjust="spacingAndGlyphs">)</text>
<rect x="58.1" y="12.2" width="11.499999999999993" height="10.30" fill="#fff" stroke="#050505" stroke-width="2.0"/>
<rect x="58.1" y="41.0" width="11.499999999999993" height="11.00" fill="#050505" stroke="#050505" stroke-width="2.0"/>
<rect x="58.1" y="70.4" width="11.499999999999993" height="11.00" fill="#858585" filter="url(#gn)"/>
<rect x="58.1" y="70.4" width="11.499999999999993" height="11.00" fill="none" stroke="#050505" stroke-width="2.0"/>
<rect x="58.1" y="99.7" width="11.499999999999993" height="11.10" fill="#fff"/>
<circle cx="65.4" cy="105.3" r="1.25" fill="#1c1c1c"/><circle cx="59.5" cy="105.3" r="1.1" fill="#1c1c1c"/><circle cx="61.7" cy="101.3" r="0.7" fill="#777"/><circle cx="61.7" cy="109.3" r="0.7" fill="#777"/>
<rect x="58.1" y="99.7" width="11.499999999999993" height="11.10" fill="none" stroke="#050505" stroke-width="2.0"/>
</svg></body></html>
